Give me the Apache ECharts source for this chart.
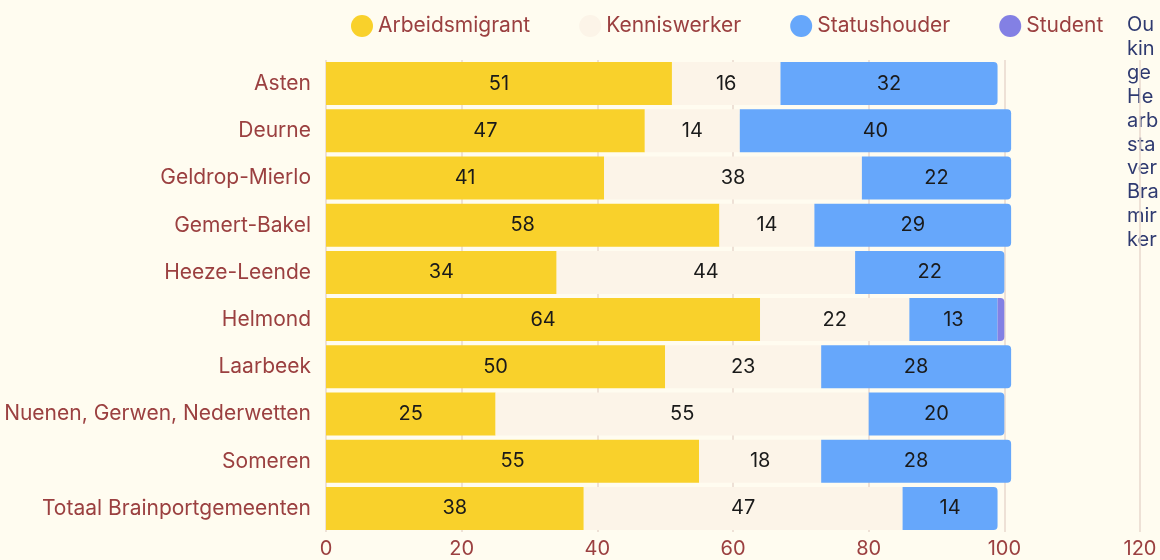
<!DOCTYPE html>
<html>
<head>
<meta charset="utf-8">
<script src="https://cdn.jsdelivr.net/npm/echarts@6/dist/echarts.min.js"></script>
<style>
html,body{margin:0;padding:0;background:#FFFCF0;}
#chart{width:1160px;height:560px;}
</style>
</head>
<body>
<div id="chart"></div>
<script>
const categories = ["Asten","Deurne","Geldrop-Mierlo","Gemert-Bakel","Heeze-Leende","Helmond","Laarbeek","Nuenen, Gerwen, Nederwetten","Someren","Totaal Brainportgemeenten"];
const seriesNames = ["Arbeidsmigrant","Kenniswerker","Statushouder","Student"];
const arbeidsmigrant = [51,47,41,58,34,64,50,25,55,38];
const kenniswerker   = [16,14,38,14,44,22,23,55,18,47];
const statushouder   = [32,40,22,29,22,13,28,20,28,14];
const student        = [0,0,0,0,0,1,0,0,0,0];
const xTicks = [0,20,40,60,80,100,120];
const noteLines = ["Ou","kin","ge","He","arb","sta","ver","Bra","mir","ker"];

const colors = ["#F9D12B","#FCF4E8","#66A7FB","#8380E4"];
const values = [arbeidsmigrant, kenniswerker, statushouder, student];

function lastIndex(i){
  let last = -1;
  for (let s=0;s<values.length;s++){ if (values[s][i] > 0) last = s; }
  return last;
}

const series = seriesNames.map((name, s) => ({
  name: name,
  type: 'bar',
  stack: 'total',
  barCategoryGap: '9%',
  itemStyle: { color: colors[s] },
  label: {
    show: true,
    position: 'inside',
    color: '#1a1a1a',
    fontFamily: 'Inter',
    fontSize: 20,
    formatter: p => (p.value >= 5 ? p.value : '')
  },
  emphasis: { disabled: true },
  data: values[s].map((v, i) => ({
    value: v,
    itemStyle: { color: colors[s], borderRadius: lastIndex(i) === s ? [0,4,4,0] : 0 }
  }))
}));

const chart = echarts.init(document.getElementById('chart'));
chart.setOption({
  backgroundColor: '#FFFCF0',
  animation: false,
  legend: {
    top: 10,
    left: 346,
    itemWidth: 22,
    itemHeight: 22,
    itemGap: 49,
    icon: 'circle',
    textStyle: { color: '#9B4040', fontFamily: 'Inter', fontSize: 21 },
    data: seriesNames
  },
  grid: { left: 326, right: 20, top: 60, height: 472, containLabel: false },
  xAxis: {
    type: 'value',
    min: 0, max: 120, interval: 20,
    axisLine: { show: false },
    axisTick: { show: false },
    axisLabel: { color: '#9B4040', fontFamily: 'Inter', fontSize: 20, margin: 7,
      formatter: v => xTicks.includes(v) ? String(v) : '' },
    splitLine: { show: true, lineStyle: { color: '#E8D8CE', width: 1.5 } }
  },
  yAxis: {
    type: 'category',
    inverse: true,
    data: categories,
    axisLine: { show: false },
    axisTick: { show: false },
    axisLabel: { color: '#9B4040', fontFamily: 'Inter', fontSize: 21, margin: 15 }
  },
  graphic: noteLines.map((t, k) => ({
    type: 'text',
    x: 1127,
    y: 25 + k * 23.9,
    silent: true,
    style: { text: t, fill: '#2F3A70', fontFamily: 'Inter', fontSize: 20, verticalAlign: 'middle', align: 'left' }
  })),
  series: series
});
</script>
</body>
</html>
